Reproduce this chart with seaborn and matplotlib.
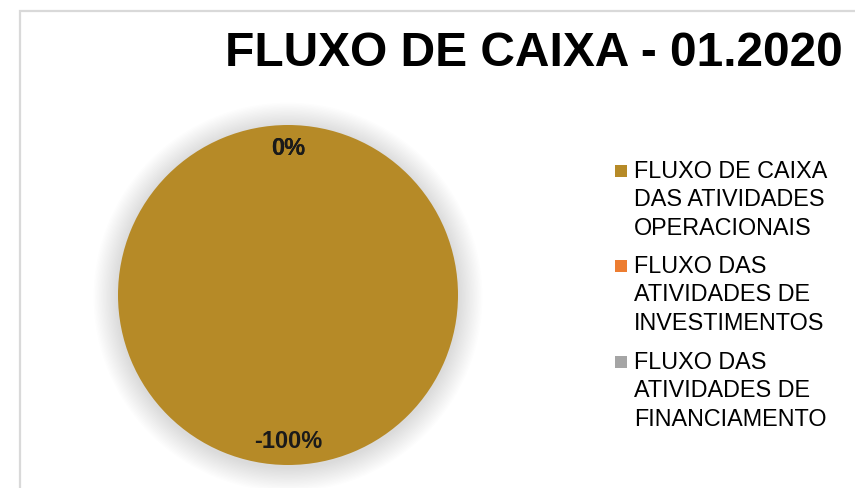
import matplotlib
matplotlib.use("Agg")
import matplotlib.pyplot as plt
import seaborn as sns
import numpy as np
from matplotlib.patches import Circle, Rectangle

# chart data
categorias = [
    "FLUXO DE CAIXA\nDAS ATIVIDADES\nOPERACIONAIS",
    "FLUXO DAS\nATIVIDADES DE\nINVESTIMENTOS",
    "FLUXO DAS\nATIVIDADES DE\nFINANCIAMENTO",
]
percentuais = [-100, 0, 0]
cores = ["#B68A27", "#ED7D31", "#A5A5A5"]
titulo = "FLUXO DE CAIXA - 01.2020"

sns.set_theme(style="white")
plt.rcParams["font.family"] = ["Liberation Sans", "DejaVu Sans"]

W, H = 855, 488
fig = plt.figure(figsize=(W / 100, H / 100), dpi=100)
fig.patch.set_facecolor("white")

# chart frame (only left and top edges are visible)
fig.add_artist(Rectangle((19.5 / W, -0.2), 2.0, 1.2 - 10.5 / H,
                         transform=fig.transFigure, fill=False,
                         edgecolor="#D9D9D9", linewidth=1.6))

# pie axes: centre at (288, 295) px, radius 170 px
lim = 1.3
side = 170 * lim * 2
cx, cy = 288, 295
ax = fig.add_axes([(cx - side / 2) / W, (H - cy - side / 2) / H, side / W, side / H])

# soft shadow around the pie
for i in range(18):
    r = 1.0 + 0.008 * (i + 1)
    ax.add_patch(Circle((0, -0.012), r, color="#000000", alpha=0.009, lw=0, zorder=0))

valores = [abs(v) for v in percentuais]
wedges, _ = ax.pie(valores, colors=cores, startangle=90, counterclock=False,
                   radius=1.0, wedgeprops=dict(linewidth=0, zorder=2))

# data labels at the middle angle of each wedge
for w, p in zip(wedges, percentuais):
    ang = np.deg2rad((w.theta1 + w.theta2) / 2)
    d = 0.86
    ax.text(d * np.cos(ang), d * np.sin(ang), f"{p}%", ha="center", va="center",
            fontsize=17, fontweight="bold", color="#1A1A1A", zorder=5)

ax.set_xlim(-lim, lim)
ax.set_ylim(-lim, lim)
ax.set_aspect("equal")
ax.axis("off")

# title
fig.text(843 / W, (H - 66) / H, titulo, ha="right", va="baseline",
         fontsize=34.5, fontweight="bold", color="black")

# legend
tops = [160, 255, 351]
for lab, cor, t in zip(categorias, cores, tops):
    fig.add_artist(Rectangle((615 / W, (H - t - 17) / H), 12 / W, 12 / H,
                             transform=fig.transFigure, facecolor=cor, lw=0))
    fig.text(634 / W, (H - t) / H, lab, ha="left", va="top", fontsize=16.8,
             color="black", linespacing=1.3)

fig.savefig("out.png", dpi=100)
